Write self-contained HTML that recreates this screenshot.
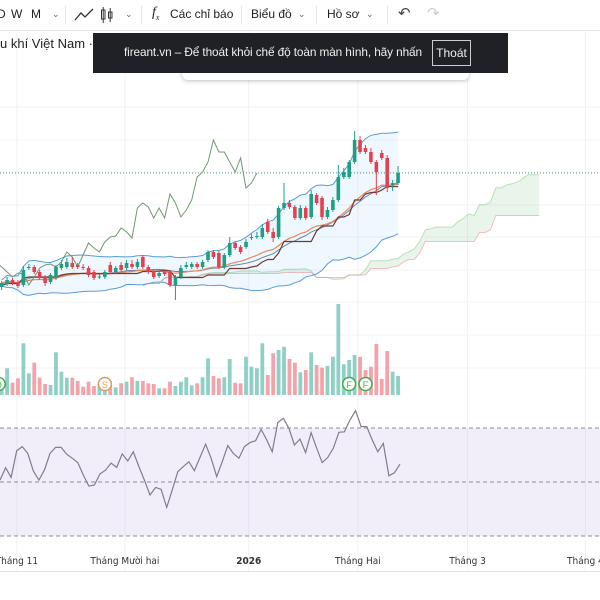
<!DOCTYPE html>
<html><head><meta charset="utf-8">
<style>
html,body{margin:0;padding:0;background:#fff;}
#root{position:relative;width:600px;height:600px;overflow:hidden;font-family:"Liberation Sans","Noto Sans CJK SC",sans-serif;}
.tb{position:absolute;top:0;left:0;width:600px;height:30px;border-bottom:1px solid #e6e6ea;background:#fff;}
.tb span{position:absolute;top:7px;font-size:12px;color:#222;}
.chev{font-size:9px!important;color:#666!important;top:9px!important;}
.div{position:absolute;top:6px;width:1px;height:18px;background:#e4e4e8;}
</style></head>
<body>
<div id="root">
<svg id="svg" width="600" height="600" style="position:absolute;left:0;top:0"></svg>
<div class="tb">
 <span style="left:-3px">D</span>
 <span style="left:11px">W</span>
 <span style="left:31px">M</span>
 <span class="chev" style="left:52px">&#8964;</span>
 <div class="div" style="left:65px"></div>
 <svg style="position:absolute;left:74px;top:8px" width="20" height="14"><polyline points="1,12 7,5 11,9 19,1" fill="none" stroke="#333" stroke-width="1.3"/></svg>
 <svg style="position:absolute;left:100px;top:6px" width="14" height="18"><rect x="1.5" y="4" width="3.5" height="9" fill="none" stroke="#333"/><line x1="3.2" y1="1" x2="3.2" y2="17" stroke="#333"/><rect x="8.5" y="6" width="3.5" height="6" fill="none" stroke="#333"/><line x1="10.2" y1="2" x2="10.2" y2="16" stroke="#333"/></svg>
 <span class="chev" style="left:125px">&#8964;</span>
 <div class="div" style="left:141px"></div>
 <span style="left:152px;font-family:'Liberation Serif',serif;font-style:italic;font-size:14px;top:5px">f<sub style="font-size:8px">x</sub></span>
 <span style="left:170px">Các chỉ báo</span>
 <div class="div" style="left:241px"></div>
 <span style="left:251px">Biểu đồ</span>
 <span class="chev" style="left:298px">&#8964;</span>
 <div class="div" style="left:316px"></div>
 <span style="left:327px">Hồ sơ</span>
 <span class="chev" style="left:366px">&#8964;</span>
 <div class="div" style="left:387px"></div>
 <span style="left:398px;font-size:15px;top:4px;color:#444">&#8630;</span>
 <span style="left:427px;font-size:15px;top:4px;color:#ccc">&#8631;</span>
</div>
<div style="position:absolute;left:0;top:36px;font-size:13px;color:#222;white-space:nowrap">u khí Việt Nam · 1</div>
<div style="position:absolute;left:182px;top:66px;width:287px;height:14px;background:#fff;border-radius:0 0 6px 6px;box-shadow:0 1px 4px rgba(0,0,0,0.25)"></div>
<div style="position:absolute;left:93px;top:33px;width:415px;height:40px;background:#202126">
 <span style="position:absolute;left:31px;top:12px;font-size:11.8px;color:#f0f0f0;white-space:nowrap;letter-spacing:-0.1px">fireant.vn – Để thoát khỏi chế độ toàn màn hình, hãy nhấn</span>
 <span style="position:absolute;left:339px;top:7px;width:37px;height:24px;border:1px solid #ccc;color:#f0f0f0;font-size:12px;line-height:24px;text-align:center">Thoát</span>
</div>
</div>
<script>
const openP=[31.3,31.6,32.0,31.8,31.5,33.2,33.3,32.8,32.3,31.8,32.2,33.2,33.3,33.7,33.5,33.3,33.2,32.8,32.3,32.3,33.5,32.8,33.5,33.2,33.6,33.3,34.3,33.3,32.9,32.4,32.8,32.8,31.5,32.3,33.3,33.3,33.6,33.3,34.0,34.8,34.7,33.3,34.5,35.7,35.3,35.3,36.2,36.3,36.3,37.8,36.8,36.3,39.2,39.7,39.3,38.2,39.2,38.3,40.5,40.2,38.3,39.0,40.0,42.3,42.3,43.8,46.0,45.2,44.8,43.8,44.7,44.2,41.5,41.7];
const closeP=[31.7,32.0,31.7,31.4,33.0,33.3,32.8,32.2,31.7,32.5,33.3,33.6,33.8,33.3,33.3,33.25,32.5,32.2,32.35,32.8,32.8,33.2,33.0,33.7,33.3,33.8,33.3,32.8,32.3,32.7,32.6,31.5,32.3,33.2,33.5,33.6,33.3,33.8,34.8,34.3,33.3,34.5,35.7,35.2,34.8,35.8,36.3,36.4,37.2,36.8,36.2,39.2,39.7,39.3,38.2,39.2,38.2,40.6,39.7,38.3,39.0,40.0,42.3,42.8,43.8,46.0,44.8,44.8,43.8,42.8,44.2,41.2,41.7,42.7];
const highP=[31.9,32.3,32.2,32.0,33.4,33.6,33.5,33.0,32.5,32.7,33.5,34.0,34.2,34.3,33.7,33.6,33.4,33.0,32.6,33.0,33.8,33.4,33.8,34.0,34.0,34.1,34.5,33.5,33.1,32.9,33.0,33.0,32.5,33.5,33.8,33.8,33.8,34.0,35.0,35.0,34.9,34.7,36.3,35.9,35.5,36.1,36.6,36.8,37.6,38.1,37.2,39.4,41.7,40.0,39.5,39.5,39.4,41.0,40.7,40.4,39.3,40.3,43.5,43.2,44.0,46.9,46.4,45.5,45.2,44.0,45.0,44.5,42.0,43.4];
const lowP=[31.0,31.4,31.5,31.2,31.3,33.0,32.6,32.0,31.4,31.6,32.0,33.0,33.1,33.1,33.1,33.0,32.3,32.0,32.1,32.1,32.6,32.6,32.8,33.0,33.1,33.1,33.1,32.6,32.1,32.2,32.4,31.3,30.0,32.1,33.1,33.1,33.1,33.1,33.8,34.1,33.1,33.1,34.3,35.0,34.6,35.1,36.0,36.1,36.1,36.6,35.8,36.1,39.0,39.1,38.0,38.0,38.0,38.1,39.5,38.0,38.1,38.8,39.8,42.1,42.1,43.6,44.6,44.6,43.6,40.5,44.0,40.8,40.9,41.5];
const volumes=[1330,2670,1230,1670,5170,2170,3230,1730,1100,1000,4270,2330,1730,1730,1400,830,1330,900,1100,770,1000,770,1170,1330,1770,1400,1400,1170,1100,670,670,1330,900,1330,1770,970,1170,1770,3670,1900,1670,1770,3600,1230,1170,3830,2830,2670,5170,2000,4170,4500,4830,3600,3230,2270,2500,4270,3000,2730,2900,3830,9100,3070,3500,4000,3830,2500,2830,5100,1600,4400,2330,1900];
const rsiVals=[50.7,55.3,51.7,61.5,63.1,60.6,54.1,50.7,54.4,60.6,62.8,62.8,60.3,58.8,57.2,52.6,48.5,48.9,53.0,54.4,57.0,55.4,60.4,57.8,61.2,55.7,50.7,45.2,48.0,47.3,40.6,47.0,53.8,55.7,57.5,54.2,59.1,64.0,58.8,52.0,57.5,63.5,60.6,58.8,63.1,64.6,65.3,69.5,65.6,61.2,72.0,73.6,69.9,63.7,65.9,60.9,68.3,62.5,57.2,59.1,62.5,68.4,68.6,73.0,76.4,70.5,70.5,65.6,61.2,64.3,52.3,53.4,56.6];
const monthLabels=["Tháng 11","Tháng Mười hai","2026","Tháng Hai","Tháng 3","Tháng 4"];
const monthIdx=[2.8,22.7,45.5,65.6,85.8,107.5];
const markerIdx=[0,19,64,67];
const markerText=["D","S","F","F"];
const rsiLevels=[70,50,30];

const NS="http://www.w3.org/2000/svg";
const svg=document.getElementById('svg');
function el(tag,attrs,parent){const e=document.createElementNS(NS,tag);for(const k in attrs)e.setAttribute(k,attrs[k]);(parent||svg).appendChild(e);return e;}
const N=closeP.length;
function xAt(i){return 1.67+5.43*i;}
function yP(p){return 300-(p-30)*10;}
function yV(v){return 395-v*0.01;}
function xR(i){return i*(400/72);}
function yR(r){return 482-(r-50)*2.7;}

[107,140,172,205,237,270,302,335,368].forEach(y=>{const g=el('line',{x1:0,x2:600,y1:y,y2:y,stroke:'#f3f3f5','stroke-width':1});});
monthIdx.forEach(m=>{const g=el('line',{x1:xAt(m),x2:xAt(m),y1:31,y2:571,stroke:'#f1f1f4','stroke-width':1});});

function sma(arr,n,i){let s=0,c=0;for(let k=Math.max(0,i-n+1);k<=i;k++){s+=arr[k];c++;}return s/c;}
function sd(arr,n,i){const m=sma(arr,n,i);let s=0,c=0;for(let k=Math.max(0,i-n+1);k<=i;k++){s+=(arr[k]-m)**2;c++;}return Math.sqrt(s/c);}
function mid(n,i){let h=-1e9,l=1e9;for(let k=Math.max(0,i-n+1);k<=i;k++){h=Math.max(h,highP[k]);l=Math.min(l,lowP[k]);}return (h+l)/2;}
const bbU=[],bbL=[],bbM=[],ema=[],kij=[],spA=[],spB=[];
let e=closeP[0];
for(let i=0;i<N;i++){const m=sma(closeP,20,i),s=sd(closeP,20,i);bbM.push(m);bbU.push(m+2*s+0.3);bbL.push(m-2*s-0.3);e=e+(closeP[i]-e)*2/21;ema.push(e);kij.push(mid(26,i));spA.push((mid(9,i)+mid(26,i))/2);spB.push(mid(52,i));}
function pts(arr,xf,yf,off){return arr.map((v,i)=>xf(i+(off||0)).toFixed(1)+','+yf(v).toFixed(1)).join(' ');}

const bbPoly=pts(bbU,xAt,yP)+' '+bbL.map((v,i)=>[xAt(i),yP(v)]).reverse().map(p=>p[0].toFixed(1)+','+p[1].toFixed(1)).join(' ');
const bf=el('polygon',{points:bbPoly,fill:'rgba(33,150,243,0.07)'});


for(let i=0;i<N-1;i++){const x1=xAt(i+26),x2=xAt(i+27);const up=spA[i]>=spB[i];
 const q=el('polygon',{points:`${x1},${yP(spA[i])} ${x2},${yP(spA[i+1])} ${x2},${yP(spB[i+1])} ${x1},${yP(spB[i])}`,fill:up?'rgba(76,175,80,0.12)':'rgba(242,54,69,0.10)'});
 }
const sa=el('polyline',{points:pts(spA,xAt,yP,26),fill:'none',stroke:'rgba(76,175,80,0.35)','stroke-width':1});

const sb=el('polyline',{points:pts(spB,xAt,yP,26),fill:'none',stroke:'rgba(242,54,69,0.3)','stroke-width':1});


const lU=el('polyline',{points:pts(bbU,xAt,yP),fill:'none',stroke:'#5b9bd5','stroke-width':1});

const lL=el('polyline',{points:pts(bbL,xAt,yP),fill:'none',stroke:'#5b9bd5','stroke-width':1});

const lM=el('polyline',{points:pts(bbM,xAt,yP),fill:'none',stroke:'#6a8aa8','stroke-width':1});

const lE=el('polyline',{points:pts(ema,xAt,yP),fill:'none',stroke:'#e8875a','stroke-width':1.2});

const lK=el('polyline',{points:pts(kij,xAt,yP),fill:'none',stroke:'#6d3b3b','stroke-width':1.2});

const lC=el('polyline',{points:pts(closeP,xAt,yP,-26),fill:'none',stroke:'#6f9a6f','stroke-width':1});


const lp=el('line',{x1:0,x2:600,y1:yP(closeP[N-1]),y2:yP(closeP[N-1]),stroke:'#4a9a8a','stroke-width':1,'stroke-dasharray':'1,2'});


for(let i=0;i<N;i++){const up=closeP[i]>=openP[i];const c=up?'#1e9e83':'#e5404f';const x=xAt(i);
 const w=el('line',{x1:x,x2:x,y1:yP(highP[i]),y2:yP(lowP[i]),stroke:c,'stroke-width':1});
 
 const t=Math.min(yP(openP[i]),yP(closeP[i]));const h=Math.max(1,Math.abs(yP(openP[i])-yP(closeP[i])));
 const b=el('rect',{x:x-1.8,y:t,width:3.6,height:h,fill:c});
 
 const v=el('rect',{x:x-1.9,y:yV(volumes[i]),width:3.8,height:395-yV(volumes[i]),fill:up?'#8fd0c6':'#f4a3ab'});
 }

markerIdx.forEach((m,k)=>{const col=markerText[k]==='S'?'#e59a5a':'#3fae4a';
 const g=el('g',{});
 el('circle',{cx:xAt(m)+(k===0?-3:0),cy:384,r:6.5,fill:'#fff',stroke:col,'stroke-width':1.5},g);
 const t=el('text',{x:xAt(m)+(k===0?-3:0),y:388,'text-anchor':'middle','font-size':9,fill:col,'font-family':'Liberation Sans, sans-serif'},g);t.textContent=markerText[k];});

const band=el('rect',{x:0,y:yR(70),width:600,height:yR(30)-yR(70),fill:'rgba(126,87,194,0.1)'});

rsiLevels.forEach(l=>{const d=el('line',{x1:0,x2:600,y1:yR(l),y2:yR(l),stroke:'#8c8c96','stroke-width':1,'stroke-dasharray':'4,3'});});
const rl=el('polyline',{points:pts(rsiVals,xR,yR),fill:'none',stroke:'#857a8e','stroke-width':1.2});


const ax=el('line',{x1:0,x2:600,y1:571.5,y2:571.5,stroke:'#e2e2e6','stroke-width':1});

monthLabels.forEach((s,k)=>{const t=el('text',{x:xAt(monthIdx[k]),y:564,'text-anchor':'middle','font-size':10,fill:'#333','font-weight':s==='2026'?'bold':'normal','font-family':'DejaVu Sans Condensed, DejaVu Sans, sans-serif','font-stretch':'condensed'});t.textContent=s;});
</script>
</body></html>
